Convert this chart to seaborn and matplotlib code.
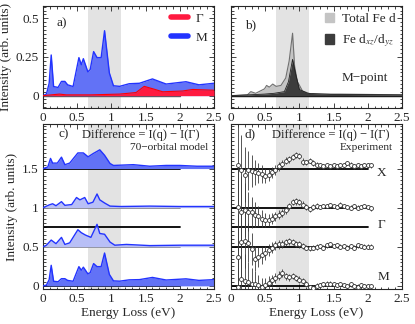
import numpy as np
import matplotlib
matplotlib.use('Agg')
import matplotlib.pyplot as plt
import seaborn as sns
from matplotlib.ticker import MultipleLocator, FixedLocator
from matplotlib.patches import Patch
from matplotlib.lines import Line2D

# panel a: computed intensity at Gamma and M
e_m = [0.0, 0.05, 0.09, 0.12, 0.155, 0.22, 0.27, 0.32, 0.36, 0.44, 0.525, 0.56, 0.59,
       0.656, 0.69, 0.74, 0.79, 0.85, 0.90, 0.97, 1.03, 1.12, 1.26, 1.41, 1.60, 1.80,
       2.09, 2.28, 2.5]
i_m = [0.0, 0.01, 0.08, 0.263, 0.059, 0.053, 0.092, 0.092, 0.07, 0.059, 0.246, 0.20, 0.239,
       0.154, 0.169, 0.285, 0.246, 0.246, 0.42, 0.147, 0.064, 0.06, 0.077, 0.08, 0.108, 0.075,
       0.09, 0.07, 0.08]
e_g = [0.0, 0.24, 0.34, 0.70, 1.12, 1.36, 1.48, 1.60, 1.75, 2.04, 2.19, 2.5]
i_g = [0.0, 0.01, 0.005, 0.005, 0.01, 0.02, 0.06, 0.045, 0.025, 0.03, 0.04, 0.035]

# panel b: orbital-resolved at M
e_tot = [0.0, 0.24, 0.29, 0.36, 0.49, 0.52, 0.56, 0.61, 0.66, 0.73, 0.80, 0.85, 0.90, 0.93,
         0.97, 1.045, 1.17, 1.6, 2.5]
i_tot = [0.0, 0.005, 0.026, 0.015, 0.044, 0.066, 0.055, 0.075, 0.06, 0.066, 0.114, 0.224,
         0.404, 0.19, 0.092, 0.03, 0.01, 0.01, 0.005]
e_dxz = [0.0, 0.49, 0.63, 0.78, 0.84, 0.90, 0.95, 1.0, 1.12, 1.46, 2.5]
i_dxz = [0.0, 0.01, 0.015, 0.026, 0.09, 0.235, 0.13, 0.04, 0.015, 0.008, 0.005]

# panel c: model differences (offset 1.5, 1.0, 0.5; offset 0 is the M curve)
e_c15 = [0.0, 0.07, 0.11, 0.14, 0.21, 0.27, 0.32, 0.39, 0.51, 0.59, 0.66, 0.73, 0.83, 0.90,
         0.98, 1.03, 1.32, 1.56, 1.80, 2.0, 2.25, 2.5]
d_c15 = [0.0, 0.02, 0.13, 0.07, 0.07, 0.146, 0.05, 0.07, 0.2, 0.2, 0.15, 0.19, 0.24, 0.17,
         0.065, 0.04, 0.05, 0.03, 0.04, 0.04, 0.03, 0.03]
e_c10 = [0.0, 0.09, 0.14, 0.19, 0.27, 0.32, 0.42, 0.49, 0.54, 0.61, 0.66, 0.73, 0.79, 0.83,
         0.90, 0.98, 1.13, 1.56, 2.0, 2.5]
d_c10 = [0.0, 0.035, 0.05, 0.025, 0.077, 0.03, 0.04, 0.13, 0.1, 0.13, 0.05, 0.07, 0.175, 0.1,
         0.06, 0.02, 0.015, 0.02, 0.015, 0.015]
e_c05 = [0.0, 0.05, 0.12, 0.19, 0.27, 0.32, 0.39, 0.51, 0.56, 0.62, 0.70, 0.79, 0.83, 0.90,
         0.98, 1.05, 1.22, 1.56, 2.0, 2.5]
d_c05 = [0.0, 0.02, 0.086, 0.04, 0.12, 0.03, 0.05, 0.218, 0.18, 0.15, 0.12, 0.287, 0.17, 0.16,
         0.06, 0.02, 0.03, 0.015, 0.02, 0.02]

# panel d: experimental differences
e_exp = [0.10, 0.15, 0.20, 0.25, 0.30, 0.35, 0.40, 0.45, 0.50, 0.55, 0.60, 0.65, 0.70, 0.75,
         0.80, 0.85, 0.90, 0.95, 1.00, 1.05, 1.10, 1.15, 1.20, 1.25, 1.30, 1.35, 1.40, 1.45,
         1.50, 1.55, 1.60, 1.65, 1.70, 1.75, 1.80, 1.85, 1.90, 1.95, 2.00, 2.05]
d_x = [0.05, -0.02, -0.08, -0.02, -0.03, -0.05, -0.06, -0.07, -0.10, -0.08, -0.05, -0.02, 0.03,
       0.06, 0.10, 0.12, 0.15, 0.17, 0.16, 0.09, 0.08, 0.10, 0.07, 0.05, 0.04, 0.03, 0.04, 0.03,
       0.04, 0.03, 0.04, 0.04, 0.07, 0.05, 0.03, 0.04, 0.03, 0.04, 0.04, 0.04]
d_y = [0.01, -0.05, -0.03, -0.05, -0.06, -0.09, -0.11, -0.14, -0.16, -0.16, -0.14, -0.11, -0.09,
       -0.07, -0.03, 0.02, 0.07, 0.08, 0.07, 0.04, 0.01, -0.02, 0.01, 0.02, 0.01, 0.02, 0.02,
       0.03, 0.02, 0.01, 0.04, 0.02, 0.01, 0.00, 0.02, 0.00, 0.01, 0.02, 0.01, -0.01]
d_z = [-0.13, 0.06, 0.08, 0.05, -0.03, -0.15, -0.13, -0.11, -0.08, -0.04, -0.01, 0.02, 0.03,
       0.04, 0.06, 0.07, 0.06, 0.04, 0.03, 0.01, -0.01, -0.02, -0.01, 0.00, 0.01, -0.01, 0.02,
       0.03, 0.01, 0.02, 0.00, 0.01, -0.01, 0.01, -0.01, 0.02, 0.01, 0.00, 0.00, 0.00]
d_mexp = [-0.02, 0.09, 0.06, 0.05, 0.03, 0.03, 0.01, -0.01, 0.01, 0.04, 0.07, 0.10, 0.13, 0.16,
          0.12, 0.11, 0.13, 0.10, 0.08, 0.06, 0.03, -0.02, -0.03, 0.00, 0.01, 0.02, 0.03, 0.03,
          0.02, 0.01, 0.02, 0.01, 0.00, 0.02, 0.00, -0.01, 0.01, 0.00, 0.00, 0.00]
err_exp = [0.55, 0.45, 0.35, 0.25, 0.2, 0.16, 0.13, 0.11, 0.09, 0.08, 0.07, 0.06, 0.055, 0.05,
           0.045, 0.045, 0.04, 0.04, 0.04, 0.04, 0.035, 0.035, 0.035, 0.035, 0.03, 0.03, 0.03,
           0.03, 0.03, 0.03, 0.03, 0.03, 0.03, 0.03, 0.03, 0.03, 0.03, 0.03, 0.03, 0.03]

sns.set_theme(style='ticks')
plt.rcParams['font.family'] = ['Liberation Serif', 'DejaVu Serif']
plt.rcParams['mathtext.fontset'] = 'stix'
FS = 9.5

BLUE_LINE = '#2233ff'
BLUE_FILL = '#6272f6'
BLUE_LIGHT = '#b8bff6'
RED = '#ff1a40'
SHADE = '#e3e3e3'

fig = plt.figure(figsize=(4.15, 3.24), dpi=100)
W = 171 / 415
ax_a = fig.add_axes([43 / 415, 1 - 108 / 324, W, 102 / 324])
ax_b = fig.add_axes([231 / 415, 1 - 108 / 324, W, 102 / 324])
ax_c = fig.add_axes([43 / 415, 1 - 289 / 324, W, 165 / 324])
ax_d = fig.add_axes([231 / 415, 1 - 289 / 324, W, 165 / 324])

for ax in (ax_a, ax_b, ax_c, ax_d):
    ax.axvspan(0.66, 1.14, color=SHADE, lw=0, zorder=0)
    ax.set_xlim(0, 2.5)
    ax.xaxis.set_major_locator(MultipleLocator(0.5))
    ax.xaxis.set_minor_locator(MultipleLocator(0.1))
    ax.tick_params(which='both', direction='in', top=True, right=True,
                   labelsize=FS, width=0.6, pad=3)
    ax.tick_params(which='major', length=3.5)
    ax.tick_params(which='minor', length=1.8)
    for s in ax.spines.values():
        s.set_linewidth(0.8)
    ax.xaxis.set_major_formatter(plt.FuncFormatter(lambda v, p: f'{v:g}'))

# a)
ax_a.plot([0, 2], [0, 0], color='#555555', lw=1, zorder=1)
ax_a.fill_between(e_m, i_m, color=BLUE_FILL, lw=0, zorder=2)
sns.lineplot(x=e_m, y=i_m, ax=ax_a, color=BLUE_LINE, lw=1, zorder=3)
ax_a.fill_between(e_g, i_g, color=RED, lw=0, zorder=4)
sns.lineplot(x=e_g, y=i_g, ax=ax_a, color='#ff0000', lw=0.8, zorder=5)
ax_a.set_ylim(-0.08, 0.58)
ax_a.yaxis.set_major_locator(MultipleLocator(0.25))
ax_a.yaxis.set_minor_locator(MultipleLocator(0.025))
ax_a.yaxis.set_major_formatter(plt.FuncFormatter(lambda v, p: f'{v:g}'))
ax_a.text(0.08, 0.83, 'a)', transform=ax_a.transAxes, fontsize=FS, va='center')
ax_a.legend(handles=[Line2D([], [], color=RED, lw=4, label='Γ'),
                     Line2D([], [], color=BLUE_LINE, lw=4, label='M')],
            loc='upper right', frameon=False, fontsize=FS, handlelength=1.3,
            borderaxespad=0.1, labelspacing=0.5, handletextpad=0.6)

# b)
ax_b.plot([0, 2.5], [0, 0], color='black', lw=1, zorder=1)
ax_b.fill_between(e_tot, i_tot, color='#c4c4c4', lw=0, zorder=2)
sns.lineplot(x=e_tot, y=i_tot, ax=ax_b, color='#707070', lw=0.8, zorder=3)
ax_b.fill_between(e_dxz, i_dxz, color='#3c3c3c', lw=0, zorder=4)
sns.lineplot(x=e_dxz, y=i_dxz, ax=ax_b, color='#202020', lw=0.6, zorder=5)
ax_b.set_ylim(-0.08, 0.58)
ax_b.yaxis.set_major_locator(MultipleLocator(0.25))
ax_b.yaxis.set_minor_locator(MultipleLocator(0.025))
ax_b.set_yticklabels([])
ax_b.text(0.08, 0.81, 'b)', transform=ax_b.transAxes, fontsize=FS, va='center')
ax_b.text(0.78, 0.29, 'M−point', transform=ax_b.transAxes, fontsize=FS,
          ha='center', va='center')
ax_b.legend(handles=[Patch(color='#c4c4c4', label='Total Fe d'),
                     Patch(color='#3c3c3c', label='Fe d$_{xz}$/d$_{yz}$')],
            loc='upper right', frameon=False, fontsize=FS, handlelength=0.7,
            handleheight=0.7, borderaxespad=0.1, labelspacing=0.6, handletextpad=0.6)

# c)
for lvl, col in [(1.5, 'black'), (1.0, '#808080'), (0.75, 'black'), (0.5, '#808080'),
                 (0.0, 'black')]:
    ax_c.plot([0, 2], [lvl, lvl], color=col, lw=1.3, zorder=1)
curves = [(e_c15, d_c15, 1.5, BLUE_FILL), (e_c10, d_c10, 1.0, BLUE_LIGHT),
          (e_c05, d_c05, 0.5, BLUE_LIGHT), (e_m, i_m, 0.0, BLUE_FILL)]
for ex, dy, off, fc in curves:
    yy = np.array(dy) + off
    ax_c.fill_between(ex, off, yy, color=fc, lw=0, zorder=2)
    sns.lineplot(x=ex, y=yy, ax=ax_c, color=BLUE_LINE, lw=1, zorder=3)
ax_c.set_ylim(-0.04, 2.07)
ax_c.yaxis.set_major_locator(FixedLocator([0, 0.5, 1, 1.5]))
ax_c.yaxis.set_minor_locator(MultipleLocator(0.05))
ax_c.yaxis.set_major_formatter(plt.FuncFormatter(lambda v, p: f'{v:g}'))
ax_c.text(0.088, 0.935, 'c)', transform=ax_c.transAxes, fontsize=FS, va='center')
ax_c.text(0.57, 0.935, 'Difference = I(q) − I(Γ)', transform=ax_c.transAxes,
          fontsize=9, ha='center', va='center')
ax_c.text(0.965, 0.855, '70−orbital model', transform=ax_c.transAxes,
          fontsize=FS - 1.3, ha='right', va='center')

# d)
for lvl in (1.5, 1.0, 0.75, 0.5, 0.0):
    ax_d.plot([0, 2], [lvl, lvl], color='black', lw=1.3, zorder=1)
for dy, off in [(d_x, 1.5), (d_y, 1.0), (d_z, 0.5), (d_mexp, 0.0)]:
    yy = np.array(dy) + off
    ax_d.errorbar(e_exp, yy, yerr=err_exp, fmt='none', ecolor='#3a3a3a',
                  elinewidth=0.6, capsize=0, zorder=2)
    sns.scatterplot(x=e_exp, y=yy, ax=ax_d, s=8, facecolor='white',
                    edgecolor='#333333', linewidth=0.6, zorder=3)
ax_d.set_ylim(-0.04, 2.07)
ax_d.yaxis.set_major_locator(FixedLocator([0, 0.5, 1, 1.5]))
ax_d.yaxis.set_minor_locator(MultipleLocator(0.05))
ax_d.set_yticklabels([])
ax_d.text(0.08, 0.935, 'd)', transform=ax_d.transAxes, fontsize=FS, va='center')
ax_d.text(0.585, 0.935, 'Difference = I(q) − I(Γ)', transform=ax_d.transAxes,
          fontsize=9, ha='center', va='center')
ax_d.text(0.947, 0.855, 'Experiment', transform=ax_d.transAxes,
          fontsize=FS - 1.3, ha='right', va='center')
ax_d.text(0.88, 0.70, 'X', transform=ax_d.transAxes, fontsize=FS, ha='center', va='center')
ax_d.text(0.88, 0.388, 'Γ', transform=ax_d.transAxes, fontsize=FS, ha='center', va='center')
ax_d.text(0.89, 0.073, 'M', transform=ax_d.transAxes, fontsize=FS, ha='center', va='center')

ax_a.set_ylabel('Intensity (arb. units)', fontsize=FS, labelpad=3)
ax_c.set_ylabel('Intensity (arb. units)', fontsize=FS, labelpad=3)
ax_c.set_xlabel('Energy Loss (eV)', fontsize=FS, labelpad=1)
ax_d.set_xlabel('Energy Loss (eV)', fontsize=FS, labelpad=1)

fig.savefig('out.png', dpi=100)
